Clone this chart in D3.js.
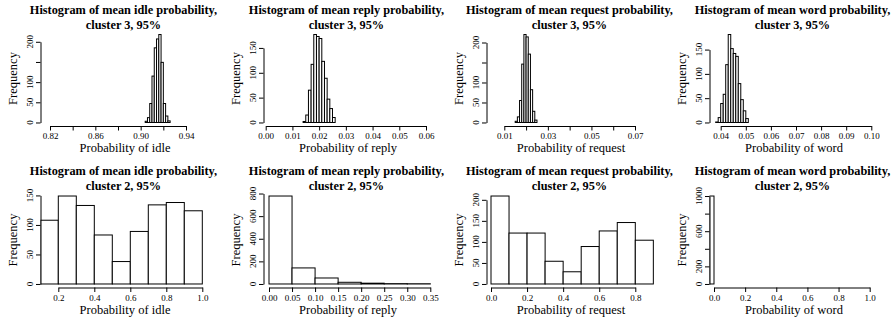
<!DOCTYPE html>
<html><head><meta charset="utf-8">
<script src="https://cdn.jsdelivr.net/npm/d3@7"></script>
<style>body{margin:0;background:#fff}svg{display:block}</style>
</head><body>
<script>
// ---------- DATA ----------
const titlesLine1 = ["Histogram of mean idle probability,","Histogram of mean reply probability,","Histogram of mean request probability,","Histogram of mean word probability,",
                     "Histogram of mean idle probability,","Histogram of mean reply probability,","Histogram of mean request probability,","Histogram of mean word probability,"];
const titlesLine2 = ["cluster 3, 95%","cluster 3, 95%","cluster 3, 95%","cluster 3, 95%","cluster 2, 95%","cluster 2, 95%","cluster 2, 95%","cluster 2, 95%"];
const xTitles = ["Probability of idle","Probability of reply","Probability of request","Probability of word",
                 "Probability of idle","Probability of reply","Probability of request","Probability of word"];

const idle3Breaks = [0.904,0.906,0.908,0.910,0.912,0.914,0.916,0.918,0.920,0.922,0.924,0.926];
const idle3Counts = [3,12,47,115,185,207,218,149,47,16,4];
const idle3XTicks = [0.82,0.84,0.86,0.88,0.90,0.92,0.94];
const idle3XLabels = ["0.82","","0.86","","0.90","","0.94"];
const idle3YTicks = [0,50,100,150,200];
const idle3YLabels = ["0","50","100","","200"];

const reply3Breaks = [0.014,0.015,0.016,0.017,0.018,0.019,0.020,0.021,0.022,0.023,0.024,0.025,0.026];
const reply3Counts = [2,15,65,117,177,173,169,123,89,47,28,10];
const reply3XTicks = [0.00,0.01,0.02,0.03,0.04,0.05,0.06];
const reply3XLabels = ["0.00","0.01","0.02","0.03","0.04","0.05","0.06"];
const reply3YTicks = [0,50,100,150];
const reply3YLabels = ["0","50","100","150"];

const request3Breaks = [0.015,0.016,0.017,0.018,0.019,0.020,0.021,0.022,0.023,0.024,0.025];
const request3Counts = [3,14,55,146,220,214,171,82,28,6];
const request3XTicks = [0.01,0.02,0.03,0.04,0.05,0.06,0.07];
const request3XLabels = ["0.01","","0.03","","0.05","","0.07"];
const request3YTicks = [0,50,100,150,200];
const request3YLabels = ["0","50","100","","200"];

const word3Breaks = [0.038,0.039,0.040,0.041,0.042,0.043,0.044,0.045,0.046,0.047,0.048,0.049,0.050,0.051];
const word3Counts = [1,10,39,58,119,181,152,142,136,80,47,24,8];
const word3XTicks = [0.04,0.05,0.06,0.07,0.08,0.09,0.10];
const word3XLabels = ["0.04","0.05","0.06","0.07","0.08","0.09","0.10"];
const word3YTicks = [0,50,100,150];
const word3YLabels = ["0","50","100","150"];

const idle2Breaks = [0.1,0.2,0.3,0.4,0.5,0.6,0.7,0.8,0.9,1.0];
const idle2Counts = [108,149,133,83,38,89,134,138,124];
const idle2XTicks = [0.2,0.4,0.6,0.8,1.0];
const idle2XLabels = ["0.2","0.4","0.6","0.8","1.0"];
const idle2YTicks = [0,50,100,150];
const idle2YLabels = ["0","50","100","150"];

const reply2Breaks = [0.00,0.05,0.10,0.15,0.20,0.25,0.30,0.35];
const reply2Counts = [778,142,53,15,7,3,2];
const reply2XTicks = [0.00,0.05,0.10,0.15,0.20,0.25,0.30,0.35];
const reply2XLabels = ["0.00","0.05","0.10","0.15","0.20","0.25","0.30","0.35"];
const reply2YTicks = [0,200,400,600,800];
const reply2YLabels = ["0","200","400","600","800"];

const request2Breaks = [0.0,0.1,0.2,0.3,0.4,0.5,0.6,0.7,0.8,0.9];
const request2Counts = [209,121,121,54,29,89,126,146,104];
const request2XTicks = [0.0,0.2,0.4,0.6,0.8];
const request2XLabels = ["0.0","0.2","0.4","0.6","0.8"];
const request2YTicks = [0,50,100,150,200];
const request2YLabels = ["0","50","100","150","200"];

const word2Breaks = [-0.03,0.0];
const word2Counts = [1000];
const word2XTicks = [0.0,0.2,0.4,0.6,0.8,1.0];
const word2XLabels = ["0.0","0.2","0.4","0.6","0.8","1.0"];
const word2YTicks = [0,200,400,600,800,1000];
const word2YLabels = ["0","200","","600","","1000"];

// ---------- LAYOUT ----------
const W = 892, H = 323, PW = 223, PH = 161.5;
const plotL = 40.5, plotR = 208, plotT = 31, plotB = 126;
// pixel offsets (within panel) of first / last x tick
const xTickPx = [[50,186],[42.7,203],[58.3,189],[51.7,202.3],[58.3,202.3],[46,207.3],[45,189.3],[45,200.7]];

const panels = [
  {b:idle3Breaks,c:idle3Counts,xt:idle3XTicks,xl:idle3XLabels,yt:idle3YTicks,yl:idle3YLabels},
  {b:reply3Breaks,c:reply3Counts,xt:reply3XTicks,xl:reply3XLabels,yt:reply3YTicks,yl:reply3YLabels},
  {b:request3Breaks,c:request3Counts,xt:request3XTicks,xl:request3XLabels,yt:request3YTicks,yl:request3YLabels},
  {b:word3Breaks,c:word3Counts,xt:word3XTicks,xl:word3XLabels,yt:word3YTicks,yl:word3YLabels},
  {b:idle2Breaks,c:idle2Counts,xt:idle2XTicks,xl:idle2XLabels,yt:idle2YTicks,yl:idle2YLabels},
  {b:reply2Breaks,c:reply2Counts,xt:reply2XTicks,xl:reply2XLabels,yt:reply2YTicks,yl:reply2YLabels},
  {b:request2Breaks,c:request2Counts,xt:request2XTicks,xl:request2XLabels,yt:request2YTicks,yl:request2YLabels},
  {b:word2Breaks,c:word2Counts,xt:word2XTicks,xl:word2XLabels,yt:word2YTicks,yl:word2YLabels}
];

const svg = d3.select("body").append("svg").attr("width",W).attr("height",H)
  .style("font-family","'Liberation Serif','Times New Roman',serif");
svg.append("rect").attr("width",W).attr("height",H).attr("fill","#fff");

panels.forEach((p,i)=>{
  const col = i%4, row = Math.floor(i/4);
  const ox = col*PW, oy = row*PH;
  const g = svg.append("g").attr("transform",`translate(${ox},${oy})`);

  const x = d3.scaleLinear().domain([p.xt[0], p.xt[p.xt.length-1]]).range(xTickPx[i]);
  const maxC = d3.max(p.c);
  const y = d3.scaleLinear().domain([-0.04*maxC, 1.04*maxC]).range([plotB, plotT]);

  const clipId = "clip"+i;
  g.append("clipPath").attr("id",clipId).append("rect")
    .attr("x",plotL).attr("y",plotT).attr("width",plotR-plotL).attr("height",plotB-plotT);

  const bins = p.c.map((v,k)=>({x0:p.b[k],x1:p.b[k+1],n:v}));
  g.append("g").attr("clip-path",`url(#${clipId})`).selectAll("rect").data(bins).join("rect")
    .attr("x",d=>x(d.x0)).attr("width",d=>x(d.x1)-x(d.x0))
    .attr("y",d=>y(d.n)).attr("height",d=>y(0)-y(d.n))
    .attr("fill","#fff").attr("stroke","#000").attr("stroke-width",1);

  // x axis
  const xa = g.append("g").attr("transform",`translate(0,${plotB})`)
    .call(d3.axisBottom(x).tickValues(p.xt).tickSize(4.5).tickSizeOuter(0).tickPadding(2)
      .tickFormat((d,k)=>p.xl[k]));
  xa.select(".domain").attr("stroke","#000");
  xa.selectAll(".tick line").attr("stroke","#000");
  xa.selectAll("text").attr("font-size",9).attr("fill","#000").attr("font-family","'Liberation Serif',serif")
    .attr("dy",null).attr("y",13);

  // y axis
  const yAxisScale = d3.scaleLinear().domain([p.yt[0], p.yt[p.yt.length-1]])
    .range([y(p.yt[0]), y(p.yt[p.yt.length-1])]);
  const ya = g.append("g").attr("transform",`translate(${plotL},0)`)
    .call(d3.axisLeft(yAxisScale).tickValues(p.yt).tickSize(4.5).tickSizeOuter(0).tickFormat(""));
  ya.select(".domain").attr("stroke","#000");
  ya.selectAll(".tick line").attr("stroke","#000");
  g.append("g").selectAll("text").data(p.yt).join("text")
    .attr("transform",(d)=>`translate(${plotL-7.5},${yAxisScale(d)}) rotate(-90)`)
    .attr("text-anchor","middle").attr("font-size",9).attr("fill","#000")
    .text((d,k)=>p.yl[k]);

  // titles
  const cx = 123.5;
  g.append("text").attr("x",cx).attr("y",13.5).attr("text-anchor","middle")
    .attr("font-weight","bold").attr("font-size",12.3).text(titlesLine1[i]);
  g.append("text").attr("x",cx).attr("y",28.5).attr("text-anchor","middle")
    .attr("font-weight","bold").attr("font-size",12.3).text(titlesLine2[i]);
  g.append("text").attr("x",125).attr("y",152).attr("text-anchor","middle")
    .attr("font-size",12.5).text(xTitles[i]);
  g.append("text").attr("transform",`translate(17,${(plotT+plotB)/2}) rotate(-90)`)
    .attr("text-anchor","middle").attr("font-size",12.5).text("Frequency");
});
</script>
</body></html>
